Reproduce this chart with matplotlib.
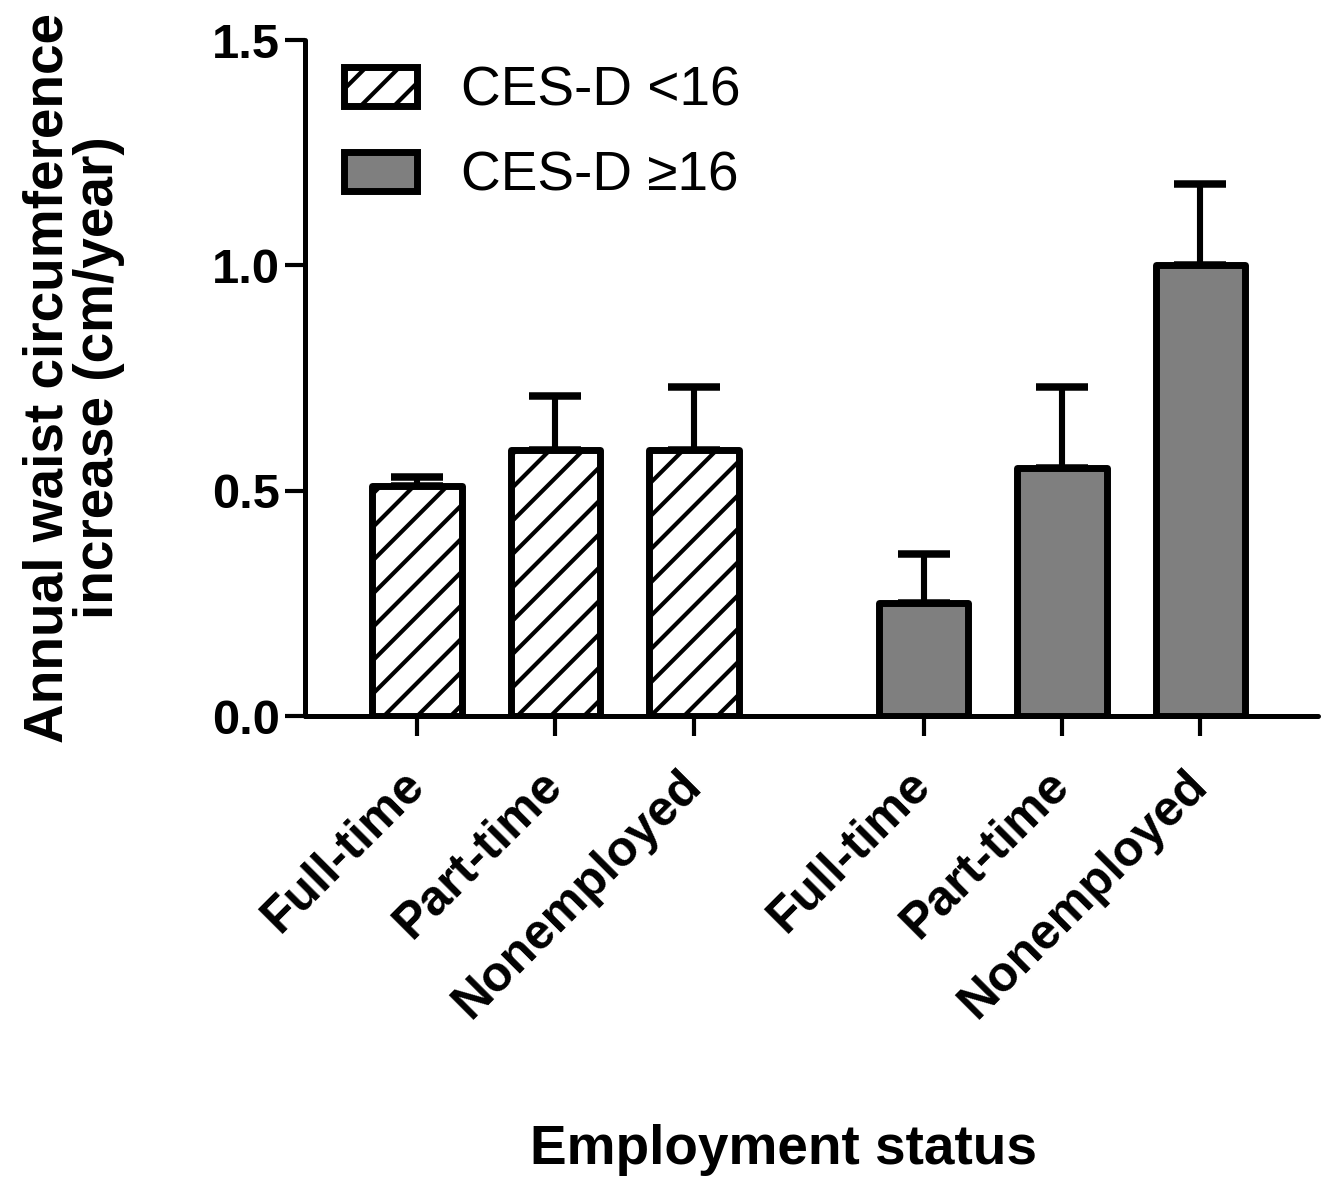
import matplotlib
matplotlib.use("Agg")
import matplotlib.pyplot as plt
import numpy as np

# Annual waist circumference increase by employment status and depressive symptoms
categories = ["Full-time", "Part-time", "Nonemployed"]
groups = ["CES-D <16", "CES-D \u226516"]
means_low = [0.51, 0.59, 0.59]
sem_low = [0.02, 0.12, 0.14]
means_high = [0.25, 0.55, 1.00]
sem_high = [0.11, 0.18, 0.18]
y_ticks = [0.0, 0.5, 1.0, 1.5]
x_title = "Employment status"
y_title = "Annual waist circumference\nincrease (cm/year)"

DPI = 200
plt.rcParams["font.family"] = ["Liberation Sans", "DejaVu Sans"]
plt.rcParams["hatch.linewidth"] = 1.5
plt.rcParams["hatch.color"] = "black"

fig = plt.figure(figsize=(1329 / DPI, 1180 / DPI), dpi=DPI)
ax = fig.add_axes([305 / 1329, 1 - 716 / 1180, 1013 / 1329, 676 / 1180])

pos_low = np.arange(3)
pos_high = np.arange(3) + 3.66
bar_w = 0.645
edge_lw = 2.5

b1 = ax.bar(pos_low, means_low, width=bar_w, facecolor="white", edgecolor="black",
            linewidth=edge_lw, hatch="//", label=groups[0], zorder=3,
            joinstyle="round")
b2 = ax.bar(pos_high, means_high, width=bar_w, facecolor="#7f7f7f", edgecolor="black",
            linewidth=edge_lw, label=groups[1], zorder=3, joinstyle="round")

for pos, m, e in ((pos_low, means_low, sem_low), (pos_high, means_high, sem_high)):
    ax.errorbar(pos, m, yerr=[np.zeros(len(e)), e], fmt="none",
                ecolor="black", elinewidth=2.2, capsize=9.4,
                capthick=2.7, zorder=2)

ax.set_xlim(-0.81, 6.51)
ax.set_ylim(0, 1.5)
ax.set_yticks(y_ticks)
ax.set_yticklabels([f"{v:.1f}" for v in y_ticks], fontsize=17.6, fontweight="bold")
ax.set_xticks(np.concatenate([pos_low, pos_high]))
ax.set_xticklabels(categories * 2, fontsize=17.9, fontweight="bold", rotation=45,
                   ha="right", va="center", rotation_mode="anchor")

for side in ("top", "right"):
    ax.spines[side].set_visible(False)
for side in ("left", "bottom"):
    ax.spines[side].set_linewidth(1.8)
    ax.spines[side].set_capstyle("round")
ax.tick_params(axis="both", length=7.2, width=1.5, direction="out")
ax.tick_params(axis="y", pad=1.8)
ax.tick_params(axis="x", pad=15)

leg = ax.legend(handles=[b1, b2], loc="upper left", bbox_to_anchor=(0.0385, 0.962),
                frameon=False, fontsize=19.8, handlelength=1.33, handleheight=0.72,
                handletextpad=0.8, labelspacing=0.6, borderpad=0, borderaxespad=0)

fig.text(74 / 1329, 1 - 378 / 1180, y_title, rotation=90, ha="center", va="center",
         fontsize=19.8, fontweight="bold", linespacing=0.97, multialignment="center")
fig.text(783 / 1329, 1 - 1150 / 1180, x_title, ha="center", va="center",
         fontsize=19.8, fontweight="bold")

fig.savefig("out.png", dpi=DPI, facecolor="white")
